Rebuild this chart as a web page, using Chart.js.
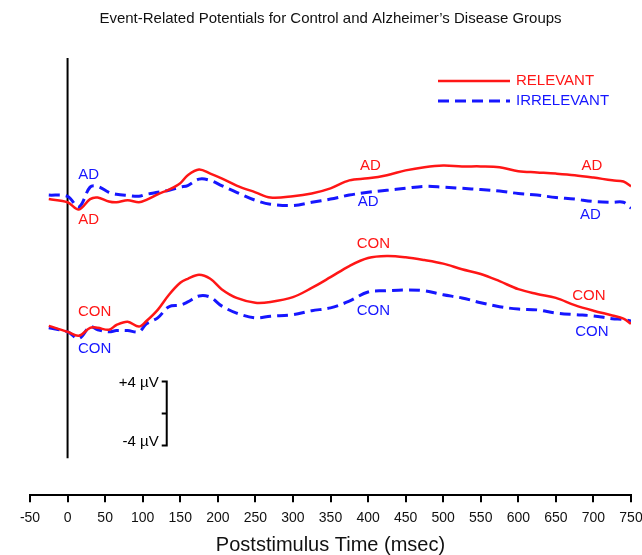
<!DOCTYPE html>
<html>
<head>
<meta charset="utf-8">
<script src="https://cdn.jsdelivr.net/npm/chart.js@4.4.1/dist/chart.umd.min.js"></script>
<style>
  html, body { margin: 0; padding: 0; background: #fff; }
  #wrap { width: 642px; height: 555px; }
</style>
</head>
<body>
<div id="wrap"><canvas id="erp" width="642" height="555"></canvas></div>
<script>
// ERP amplitudes (µV, relative to each group's prestimulus baseline)
const times = [-25, 0, 15, 30, 40, 55, 65, 80, 95, 105, 120, 135, 150, 160, 175, 190, 205, 225, 250, 270,
  300, 325, 350, 375, 400, 425, 450, 475, 500, 525, 550, 575, 600, 625, 650, 675, 700, 725, 740, 750];

const adRelevant = [-0.1, -0.5, -1.4, -0.1, 0.1, -0.4, -0.5, -0.25, -0.5, -0.2, 0.5, 1.1, 1.9, 2.9, 3.6, 3.1, 2.5, 1.6, 0.75, 0.1,
  0.25, 0.6, 1.25, 2.25, 2.5, 2.9, 3.5, 3.9, 4.1, 4.0, 4.0, 3.9, 3.4, 3.25, 3.1, 2.9, 2.6, 2.25, 2.1, 1.5];
const adIrrelevant = [0.4, 0.25, -1.1, 1.4, 1.5, 0.75, 0.5, 0.35, 0.25, 0.5, 0.75, 1.0, 1.4, 1.6, 2.4, 2.25, 1.6, 0.75, -0.25, -0.75,
  -0.9, -0.5, -0.1, 0.4, 0.75, 1.0, 1.25, 1.5, 1.4, 1.25, 1.1, 0.9, 0.6, 0.4, 0.1, -0.1, -0.4, -0.5, -0.5, -1.25];
const conRelevant = [0, -0.75, -1.25, -0.25, -0.25, -0.5, 0.1, 0.5, -0.1, 0.6, 2.0, 3.9, 5.4, 5.9, 6.4, 5.9, 4.6, 3.5, 2.9, 3.0,
  3.6, 4.75, 6.1, 7.5, 8.5, 8.75, 8.6, 8.25, 7.8, 7.1, 6.5, 5.6, 4.6, 4.0, 3.5, 2.6, 1.9, 1.3, 0.9, 0.25];
const conIrrelevant = [-0.25, -0.75, -1.6, -0.1, -0.5, -0.75, -0.6, -0.6, -0.75, 0.25, 1.0, 2.4, 2.6, 3.0, 3.75, 3.6, 2.5, 1.6, 1.0, 1.2,
  1.4, 1.9, 2.25, 3.1, 4.25, 4.4, 4.5, 4.4, 3.9, 3.5, 2.9, 2.4, 2.1, 2.0, 1.6, 1.4, 1.25, 0.9, 0.8, 0.6];

const xTicks = [-50, 0, 50, 100, 150, 200, 250, 300, 350, 400, 450, 500, 550, 600, 650, 700, 750];

// AD traces are stacked above the CON traces
const AD_OFFSET = 16;
const Y_MIN = -21.25, Y_MAX = 33.6;
const STIM_LINE_BOTTOM = -16.6;

const RED = 'rgb(255,22,22)';
const BLUE = 'rgb(22,22,255)';
const DASH = [11, 6];

// trace labels (data coords)
const traceLabels = [
  { text: 'AD', t: 28, v: 19, color: BLUE },
  { text: 'AD', t: 28, v: 13.25, color: RED },
  { text: 'AD', t: 403, v: 20.1, color: RED },
  { text: 'AD', t: 400, v: 15.5, color: BLUE },
  { text: 'AD', t: 698, v: 20.1, color: RED },
  { text: 'AD', t: 696, v: 13.9, color: BLUE },
  { text: 'CON', t: 36, v: 1.75, color: RED },
  { text: 'CON', t: 36, v: -2.9, color: BLUE },
  { text: 'CON', t: 407, v: 10.25, color: RED },
  { text: 'CON', t: 407, v: 1.9, color: BLUE },
  { text: 'CON', t: 694, v: 3.75, color: RED },
  { text: 'CON', t: 698, v: -0.75, color: BLUE }
];

// calibration bar
const SCALE_T = 132, SCALE_CENTER = -11, SCALE_HALF = 4;

const toPoints = (vals, off) => vals.map((v, i) => ({ x: times[i], y: v + off }));

Chart.defaults.font.family = "'Liberation Sans', Arial, Helvetica, sans-serif";
Chart.defaults.color = '#111';

const overlay = {
  id: 'overlay',
  afterDatasetsDraw(chart) {
    const { ctx, scales: { x, y } } = chart;
    ctx.save();
    ctx.font = "15px 'Liberation Sans', Arial, sans-serif";
    ctx.textAlign = 'center';
    ctx.textBaseline = 'middle';
    traceLabels.forEach(l => {
      ctx.fillStyle = l.color;
      ctx.fillText(l.text, x.getPixelForValue(l.t), y.getPixelForValue(l.v));
    });

    // legend
    const lx = 438, lw = 72;
    [[RED, [], 'RELEVANT', 81], [BLUE, DASH, 'IRRELEVANT', 101]].forEach(([c, d, txt, ly]) => {
      ctx.strokeStyle = c;
      ctx.lineWidth = c === BLUE ? 3 : 2.5;
      ctx.setLineDash(d);
      ctx.beginPath();
      ctx.moveTo(lx, ly);
      ctx.lineTo(lx + lw, ly);
      ctx.stroke();
      ctx.setLineDash([]);
      ctx.fillStyle = c;
      ctx.textAlign = 'left';
      ctx.fillText(txt, lx + lw + 6, ly);
    });

    // calibration bar
    const bx = x.getPixelForValue(SCALE_T);
    const yTop = y.getPixelForValue(SCALE_CENTER + SCALE_HALF);
    const yMid = y.getPixelForValue(SCALE_CENTER);
    const yBot = y.getPixelForValue(SCALE_CENTER - SCALE_HALF);
    ctx.strokeStyle = '#000';
    ctx.lineWidth = 2;
    ctx.beginPath();
    ctx.moveTo(bx - 5, yTop); ctx.lineTo(bx, yTop); ctx.lineTo(bx, yBot); ctx.lineTo(bx - 5, yBot);
    ctx.moveTo(bx - 5, yMid); ctx.lineTo(bx, yMid);
    ctx.stroke();
    ctx.fillStyle = '#000';
    ctx.textAlign = 'right';
    ctx.fillText('+4 µV', bx - 8, yTop + 1);
    ctx.fillText('-4 µV', bx - 8, yBot - 4);
    ctx.restore();
  }
};

new Chart(document.getElementById('erp'), {
  type: 'line',
  data: {
    datasets: [
      { label: 'AD RELEVANT', data: toPoints(adRelevant, AD_OFFSET), borderColor: RED, borderWidth: 2.5 },
      { label: 'AD IRRELEVANT', data: toPoints(adIrrelevant, AD_OFFSET), borderColor: BLUE, borderWidth: 3, borderDash: DASH },
      { label: 'CON RELEVANT', data: toPoints(conRelevant, 0), borderColor: RED, borderWidth: 2.5 },
      { label: 'CON IRRELEVANT', data: toPoints(conIrrelevant, 0), borderColor: BLUE, borderWidth: 3, borderDash: DASH },
      { label: 'stimulus', data: [{ x: 0, y: Y_MAX }, { x: 0, y: STIM_LINE_BOTTOM }], borderColor: '#000', borderWidth: 2, tension: 0 }
    ]
  },
  options: {
    responsive: false,
    animation: false,
    devicePixelRatio: 1,
    layout: { padding: { left: 30, right: 11, top: 0, bottom: 0 } },
    elements: { point: { radius: 0 }, line: { tension: 0.35, fill: false } },
    scales: {
      x: {
        type: 'linear',
        min: -50, max: 750,
        afterBuildTicks: (axis) => { axis.ticks = xTicks.map(v => ({ value: v })); },
        // labels at the ends fit inside the layout padding
        afterFit: (axis) => { axis.paddingLeft = 0; axis.paddingRight = 0; },
        grid: { drawOnChartArea: false, drawTicks: true, tickLength: 7, color: '#000', lineWidth: 2 },
        border: { display: true, color: '#000', width: 2 },
        ticks: { autoSkip: false, maxRotation: 0, padding: 8, color: '#111', font: { size: 14 } },
        title: { display: true, text: 'Poststimulus Time (msec)', color: '#111', font: { size: 20, lineHeight: 1 }, padding: { top: 0, bottom: 0 } }
      },
      y: { display: false, min: Y_MIN, max: Y_MAX }
    },
    plugins: {
      legend: { display: false },
      tooltip: { enabled: false },
      title: {
        display: true,
        fullSize: false,
        text: 'Event-Related Potentials for Control and Alzheimer’s Disease Groups',
        color: '#111',
        font: { size: 15, weight: 'normal' },
        padding: { top: 10, bottom: 30 }
      }
    }
  },
  plugins: [overlay]
});
</script>
</body>
</html>
